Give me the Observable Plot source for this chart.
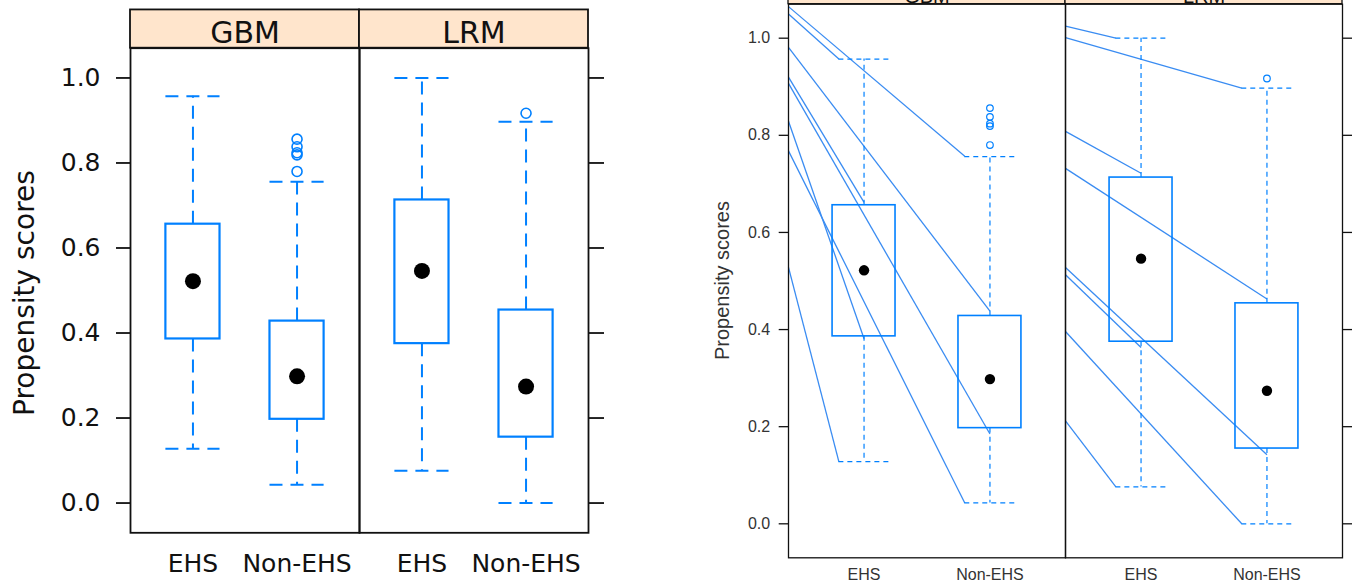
<!DOCTYPE html>
<html><head><meta charset="utf-8">
<script src="https://cdn.jsdelivr.net/npm/d3@7"></script>
<script src="https://cdn.jsdelivr.net/npm/@observablehq/plot@0.6"></script>
<style>
html,body{margin:0;padding:0;background:#fff;}
#wrap{display:flex;width:1352px;height:586px;overflow:hidden;}
#left{width:660px;height:586px;overflow:hidden;flex:none;}
#right{width:692px;height:586px;overflow:hidden;flex:none;}
svg{overflow:hidden;}
</style></head><body>
<div id="wrap"><div id="left"></div><div id="right"></div></div>
<script>
// ---- data ----
const panels = ["GBM", "LRM"];
const categories = ["EHS", "Non-EHS"];
const yTicks = [0, 0.2, 0.4, 0.6, 0.8, 1.0];
const yTitle = "Propensity scores";

const boxModel = ["GBM", "GBM", "LRM", "LRM"];
const boxGroup = ["EHS", "Non-EHS", "EHS", "Non-EHS"];
const whiskerLow = [0.128, 0.043, 0.076, 0.0];
const quartile1 = [0.386, 0.197, 0.375, 0.155];
const medians = [0.522, 0.298, 0.546, 0.274];
const quartile3 = [0.656, 0.428, 0.713, 0.454];
const whiskerHigh = [0.957, 0.756, 1.0, 0.897];

const outlierModel = ["GBM", "GBM", "GBM", "GBM", "GBM", "LRM"];
const outlierGroup = ["Non-EHS", "Non-EHS", "Non-EHS", "Non-EHS", "Non-EHS", "Non-EHS"];
const outlierValue = [0.856, 0.838, 0.824, 0.819, 0.780, 0.917];

// connector lines drawn on the right-hand copy
const linkModel = ["GBM","GBM","GBM","GBM","GBM","GBM","GBM","GBM","LRM","LRM","LRM","LRM","LRM","LRM","LRM","LRM"];
const linkFromY = [1.065, 1.050, 0.981, 0.920, 0.907, 0.829, 0.768, 0.528, 1.025, 1.001, 0.808, 0.732, 0.528, 0.513, 0.396, 0.212];
const linkToGroup = ["Non-EHS","EHS","Non-EHS","EHS","Non-EHS","EHS","Non-EHS","EHS","EHS","Non-EHS","EHS","Non-EHS","Non-EHS","EHS","Non-EHS","EHS"];
const linkToPart = ["cap","cap","whisker","whisker","whisker","whisker","cap","cap","cap","cap","whisker","whisker","whisker","whisker","cap","cap"];
const linkToY = [0.757, 0.957, 0.438, 0.662, 0.185, 0.381, 0.043, 0.128, 1.0, 0.897, 0.722, 0.463, 0.142, 0.363, 0.0, 0.076];

// ---- tables built from the arrays ----
const posOf = g => categories.indexOf(g) + 1;
const boxes = boxModel.map((m, i) => ({model: m, group: boxGroup[i], pos: posOf(boxGroup[i]),
  lo: whiskerLow[i], q1: quartile1[i], med: medians[i], q3: quartile3[i], hi: whiskerHigh[i]}));
const outliers = outlierModel.map((m, i) => ({model: m, pos: posOf(outlierGroup[i]), value: outlierValue[i]}));
const links = linkModel.map((m, i) => ({model: m, from: linkFromY[i], pos: posOf(linkToGroup[i]), part: linkToPart[i], to: linkToY[i]}));
const strips = panels.map(p => ({model: p}));

const BLUE = "#0080ff";

function makeChart(c) {
  const marks = [
    Plot.rect(strips, {fx: "model", x1: () => 0.4, x2: () => 2.6, y1: () => 1.07, y2: () => c.stripTop,
      fill: "#FFE5CC", stroke: "#111", strokeWidth: c.frameW}),
    Plot.text(strips, {fx: "model", x: () => 1.5, y: () => c.stripTextY, text: "model", fontSize: c.stripFont, fill: "#111"}),
    Plot.text([{model: panels[0]}], {fx: "model", x: () => c.titleX, y: () => c.titleY, text: () => yTitle,
      rotate: -90, fontSize: c.titleFont, fill: c.textColor}),
  ];
  if (c.showLinks) {
    marks.push(Plot.link(links, {fx: "model", x1: () => 0.4, y1: "from",
      x2: d => d.pos + (d.part === "cap" ? -c.capHalf : 0), y2: "to",
      stroke: "#3a8cf2", strokeWidth: 1.3}));
  }
  marks.push(
    Plot.ruleX(boxes, {fx: "model", x: "pos", y1: "q3", y2: "hi", stroke: BLUE, strokeWidth: c.whiskW, strokeDasharray: c.dash}),
    Plot.ruleX(boxes, {fx: "model", x: "pos", y1: "q1", y2: "lo", stroke: BLUE, strokeWidth: c.whiskW, strokeDasharray: c.dash}),
    Plot.ruleY(boxes, {fx: "model", y: "hi", x1: d => d.pos - c.capHalf, x2: d => d.pos + c.capHalf, stroke: BLUE, strokeWidth: c.whiskW, strokeDasharray: c.dash}),
    Plot.ruleY(boxes, {fx: "model", y: "lo", x1: d => d.pos - c.capHalf, x2: d => d.pos + c.capHalf, stroke: BLUE, strokeWidth: c.whiskW, strokeDasharray: c.dash}),
    Plot.rect(boxes, {fx: "model", x1: d => d.pos - c.boxHalf, x2: d => d.pos + c.boxHalf, y1: "q1", y2: "q3",
      fill: "none", stroke: BLUE, strokeWidth: c.boxW}),
    Plot.dot(boxes, {fx: "model", x: "pos", y: "med", r: c.medR, fill: "black", stroke: "none"}),
    Plot.dot(outliers, {fx: "model", x: "pos", y: "value", r: c.outR, fill: "none", stroke: BLUE, strokeWidth: c.outW}),
    Plot.frame({stroke: "#111", strokeWidth: c.frameW}),
    Plot.axisY({anchor: "left", ticks: yTicks, tickFormat: d3.format(".1f"), tickSize: c.yTickSize, tickPadding: c.yTickPad,
      label: null, strokeWidth: c.frameW, fill: c.textColor, stroke: "#111"}),
    Plot.axisY({anchor: "right", ticks: yTicks, tickFormat: () => "", tickSize: c.rTickSize, tickPadding: 0,
      label: null, strokeWidth: c.frameW, stroke: "#111"}),
    Plot.axisX({anchor: "bottom", ticks: [1, 2], tickFormat: i => categories[i - 1], tickSize: 0, tickPadding: c.xTickPad,
      label: null, fill: c.textColor})
  );
  return Plot.plot({
    width: c.width, height: 586,
    marginLeft: c.marginLeft, marginRight: c.marginRight, marginTop: c.marginTop, marginBottom: c.marginBottom,
    style: {fontFamily: c.font, fontSize: c.tickFont + "px", color: c.textColor, background: "white", overflow: "hidden"},
    fx: {domain: panels, padding: 0, axis: null},
    x: {domain: [0.4, 2.6]},
    y: {domain: [-0.07, 1.07]},
    marks
  });
}

document.getElementById("left").append(makeChart({
  width: 660, marginLeft: 130, marginRight: 72, marginTop: 47.7, marginBottom: 53.7,
  font: "DejaVu Sans", tickFont: 25, titleFont: 28, stripFont: 30,
  stripTop: 1.16, stripTextY: 1.106, titleX: -0.614, titleY: 0.494,
  yTickSize: 14, yTickPad: 16, rTickSize: 15, xTickPad: 21.5,
  frameW: 1.8, boxW: 2.2, whiskW: 2, dash: "13,8", capHalf: 0.26, boxHalf: 0.26,
  medR: 8, outR: 5, outW: 1.6, showLinks: false, textColor: "#111"
}));

document.getElementById("right").append(makeChart({
  width: 692, marginLeft: 128.3, marginRight: 9.7, marginTop: 3.7, marginBottom: 28.7,
  font: "'Liberation Sans', Arial, sans-serif", tickFont: 16, titleFont: 20, stripFont: 20,
  stripTop: 1.135, stripTextY: 1.085, titleX: -0.123, titleY: 0.501,
  yTickSize: 9.3, yTickPad: 9, rTickSize: 10, xTickPad: 11.3,
  frameW: 1.3, boxW: 1.6, whiskW: 1.2, dash: "5,4", capHalf: 0.2, boxHalf: 0.25,
  medR: 5.2, outR: 3.3, outW: 1.2, showLinks: true, textColor: "#333"
}));
</script>
</body></html>
